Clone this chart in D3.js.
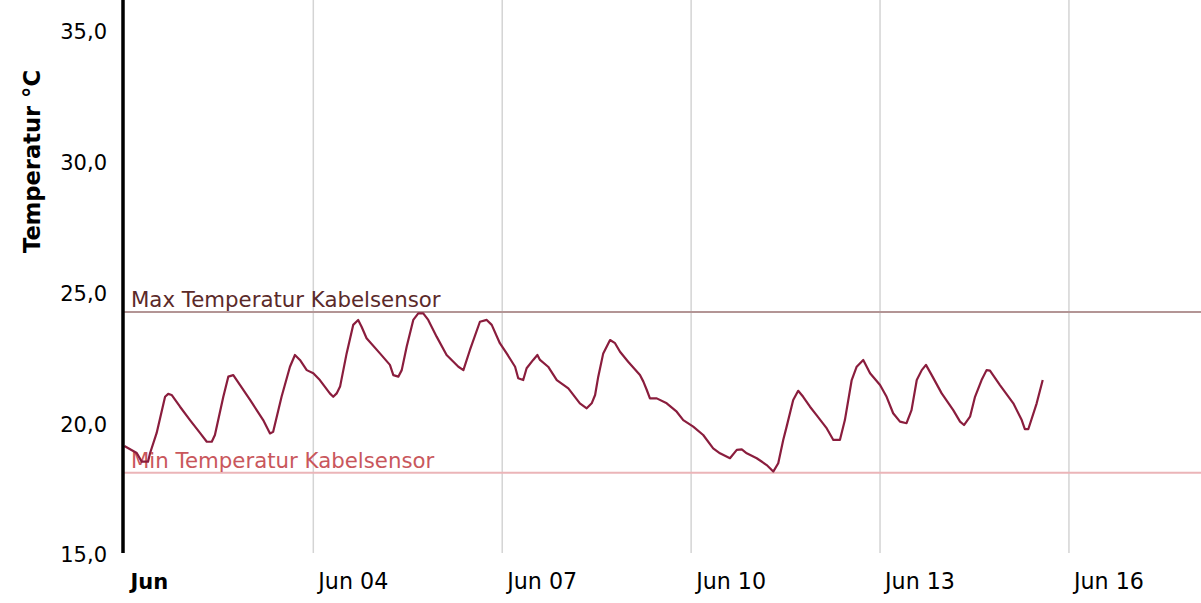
<!DOCTYPE html>
<html>
<head>
<meta charset="utf-8">
<script src="https://cdn.jsdelivr.net/npm/d3@7"></script>
<style>
  html, body { margin: 0; padding: 0; background: #fff; }
  svg { display: block; font-family: "DejaVu Sans", Verdana, sans-serif; }
</style>
</head>
<body>
<svg id="chart" width="1201" height="603"></svg>
<script>
// ---- data ----
// hours since 1 June 00:00
const hours = [0,4.7,6.6,9.0,9.8,12.3,15.5,16.7,18.0,21.2,25.0,28.8,31.4,33.3,34.5,37.7,39.6,41.5,42.8,47.9,
  52.9,55.5,56.7,59.9,63.1,65.0,66.9,69.5,72.0,74.5,78.3,79.6,80.9,82.2,84.7,87.2,89.1,90.4,92.3,97.4,
  101.2,102.5,104.4,105.7,107.6,110.1,112.0,113.9,115.8,119.0,122.8,127.3,129.2,131.7,135.5,138.1,140.0,143.1,145.7,148.9,
  150.1,152.0,153.3,155.8,157.4,158.4,161.5,164.8,169.2,173.6,176.2,178.1,179.4,180.6,182.5,185.1,187.0,188.9,192.0,196.5,
  197.8,199.1,200.3,202.9,206.7,210.5,213.0,216.8,220.6,224.4,227.0,230.8,233.4,235.3,237.2,241.0,244.8,247.3,249.2,251.1,
  252.4,254.9,256.8,258.7,261.3,263.8,267.7,270.2,272.7,274.6,277.2,279.1,281.6,284.2,288.0,290.5,293.0,295.6,298.1,300.0,
  302.0,303.9,305.5,307.7,311.5,315.9,318.5,320.0,322.3,324.2,326.7,328.6,329.9,333.7,338.8,342.0,343.2,344.5,347.7,350.0];
const temps = [19.17,18.90,18.57,18.57,18.90,19.67,21.05,21.16,21.12,20.67,20.16,19.67,19.33,19.33,19.59,21.05,21.82,21.88,21.69,20.93,
  20.16,19.65,19.71,21.05,22.20,22.65,22.46,22.07,21.95,21.69,21.18,21.05,21.18,21.44,22.71,23.80,23.99,23.73,23.29,22.71,
  22.27,21.88,21.82,22.07,22.97,23.99,24.24,24.24,23.99,23.35,22.65,22.20,22.07,22.84,23.92,23.99,23.80,23.10,22.71,22.20,
  21.76,21.69,22.14,22.46,22.65,22.46,22.20,21.69,21.37,20.80,20.61,20.80,21.12,21.82,22.71,23.22,23.10,22.77,22.39,21.88,
  21.63,21.31,20.99,20.99,20.80,20.48,20.16,19.91,19.59,19.08,18.89,18.70,19.02,19.04,18.89,18.70,18.44,18.19,18.51,19.40,
  19.91,20.93,21.28,21.05,20.67,20.35,19.84,19.40,19.40,20.16,21.69,22.20,22.46,21.95,21.50,21.05,20.42,20.10,20.04,20.54,
  21.69,22.07,22.27,21.88,21.18,20.54,20.10,19.97,20.29,21.05,21.69,22.07,22.05,21.50,20.80,20.16,19.81,19.81,20.80,21.69];
const xTickDays = [1, 4, 7, 10, 13, 16];         // June days with gridlines / labels
const yTickValues = [15, 20, 25, 30, 35];
const limitValues = [24.29, 18.15];
const limitLabels = ["Max Temperatur Kabelsensor", "Min Temperatur Kabelsensor"];
const yTitle = "Temperatur °C";

// ---- scales ----
const start = new Date(2023, 5, 1, 0, 0);
const end = new Date(start.getTime() + 17.097 * 86400000);
const x = d3.scaleTime().domain([start, end]).range([124.4, 1201]);
const y = d3.scaleLinear().domain([15, 35]).range([555, 32]);

const data = hours.map((h, i) => ({ t: new Date(start.getTime() + h * 3600000), v: temps[i] }));
const svg = d3.select("#chart");

// vertical gridlines
const tickDates = xTickDays.map(d => new Date(2023, 5, d));
svg.append("g").selectAll("line").data(tickDates.slice(1)).join("line")
  .attr("x1", d => x(d)).attr("x2", d => x(d))
  .attr("y1", 0).attr("y2", 553)
  .attr("stroke", "#d4d4d4").attr("stroke-width", 1.5);

// x tick labels
const fmt = d3.timeFormat("%b %d");
svg.append("g").selectAll("text").data(tickDates).join("text")
  .attr("x", (d, i) => x(d) + (i === 0 ? 6 : 5))
  .attr("y", 588.5)
  .attr("font-size", (d, i) => i === 0 ? 21 : 22.2)
  .attr("font-weight", (d, i) => i === 0 ? "bold" : "normal")
  .attr("fill", "#000")
  .text((d, i) => i === 0 ? d3.timeFormat("%b")(d) : fmt(d));

// y tick labels
svg.append("g").selectAll("text").data(yTickValues).join("text")
  .attr("x", 107).attr("y", d => y(d))
  .attr("dy", "0.35em")
  .attr("text-anchor", "end")
  .attr("font-size", 21)
  .attr("fill", "#000")
  .text(d => d3.format(".1f")(d).replace(".", ","));

// y title
svg.append("text")
  .attr("transform", "translate(40,161.5) rotate(-90)")
  .attr("text-anchor", "middle")
  .attr("font-size", 22.6)
  .attr("font-weight", "bold")
  .text(yTitle);

// limit lines
const limitStroke = ["#b39595", "#ebb5b8"];
const limitText = ["#5b2a2a", "#c9575c"];
limitValues.forEach((v, i) => {
  svg.append("line")
    .attr("x1", 124).attr("x2", 1201)
    .attr("y1", y(v)).attr("y2", y(v))
    .attr("stroke", limitStroke[i]).attr("stroke-width", 2);
  svg.append("text")
    .attr("x", 131).attr("y", y(v) - 5)
    .attr("font-size", 21.3)
    .attr("fill", limitText[i])
    .text(limitLabels[i]);
});

// data line
svg.append("path").datum(data)
  .attr("fill", "none")
  .attr("stroke", "#8a1d3d")
  .attr("stroke-width", 2.2)
  .attr("stroke-linejoin", "round")
  .attr("d", d3.line().x(d => x(d.t)).y(d => y(d.v)));

// y axis line
svg.append("line")
  .attr("x1", 123).attr("x2", 123)
  .attr("y1", 0).attr("y2", 553)
  .attr("stroke", "#000").attr("stroke-width", 3.5);
</script>
</body>
</html>
